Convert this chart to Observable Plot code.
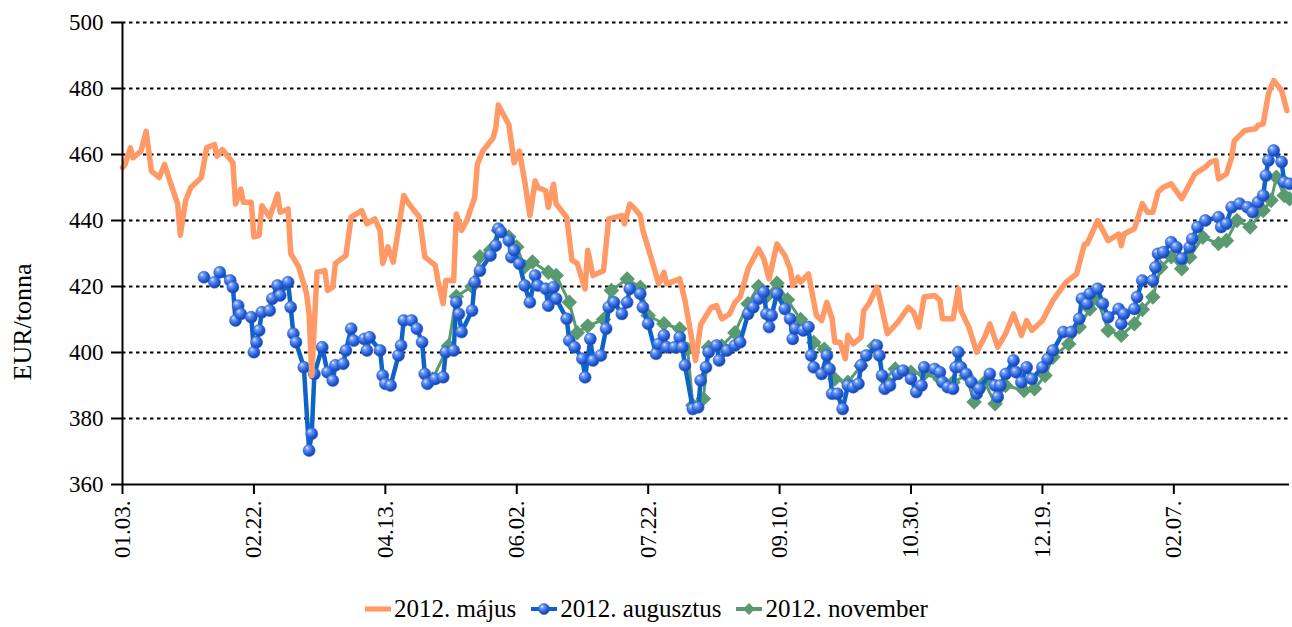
<!DOCTYPE html>
<html>
<head>
<meta charset="utf-8">
<script src="https://cdn.jsdelivr.net/npm/d3@7"></script>
<script src="https://cdn.jsdelivr.net/npm/@observablehq/plot@0.6"></script>
<style>
  html, body { margin: 0; padding: 0; background: #fff; }
  body { font-family: "Liberation Serif", "Times New Roman", serif; color: #000; }
  #chart svg, #chart svg text { font-family: "Liberation Serif", "Times New Roman", serif !important; }
  #legend { display: flex; justify-content: center; align-items: center; height: 37px; font-size: 25px; }
  #legend .item { display: flex; align-items: center; margin: 0 7px; }
  #legend svg { margin-right: 2px; }
</style>
</head>
<body>
<div id="chart"></div>
<div id="legend"></div>
<script>
// ---- data (EUR/tonna) ----
const seriesNames = ["2012. május", "2012. augusztus", "2012. november"];

const majusDates = ["2011-01-03","2011-01-04","2011-01-06","2011-01-07","2011-01-10","2011-01-12","2011-01-14","2011-01-17","2011-01-19","2011-01-21","2011-01-24","2011-01-25","2011-01-27","2011-01-29","2011-02-02","2011-02-04","2011-02-07","2011-02-08","2011-02-10","2011-02-14","2011-02-15","2011-02-17","2011-02-18","2011-02-21","2011-02-22","2011-02-24","2011-02-25","2011-02-28","2011-03-03","2011-03-04","2011-03-07","2011-03-08","2011-03-11","2011-03-14","2011-03-15","2011-03-16","2011-03-18","2011-03-21","2011-03-22","2011-03-24","2011-03-25","2011-03-29","2011-03-31","2011-04-04","2011-04-06","2011-04-09","2011-04-11","2011-04-12","2011-04-14","2011-04-16","2011-04-20","2011-04-22","2011-04-26","2011-04-28","2011-05-02","2011-05-03","2011-05-05","2011-05-06","2011-05-09","2011-05-10","2011-05-12","2011-05-14","2011-05-17","2011-05-18","2011-05-20","2011-05-24","2011-05-25","2011-05-26","2011-05-30","2011-06-01","2011-06-03","2011-06-05","2011-06-07","2011-06-09","2011-06-10","2011-06-13","2011-06-14","2011-06-16","2011-06-17","2011-06-21","2011-06-23","2011-06-25","2011-06-28","2011-06-29","2011-07-01","2011-07-05","2011-07-07","2011-07-12","2011-07-13","2011-07-15","2011-07-17","2011-07-19","2011-07-20","2011-07-23","2011-07-26","2011-07-28","2011-07-29","2011-08-03","2011-08-05","2011-08-07","2011-08-09","2011-08-11","2011-08-15","2011-08-17","2011-08-19","2011-08-22","2011-08-24","2011-08-26","2011-08-29","2011-08-30","2011-09-02","2011-09-04","2011-09-06","2011-09-09","2011-09-12","2011-09-14","2011-09-15","2011-09-17","2011-09-18","2011-09-21","2011-09-24","2011-09-26","2011-09-28","2011-09-30","2011-10-01","2011-10-03","2011-10-05","2011-10-06","2011-10-08","2011-10-11","2011-10-12","2011-10-14","2011-10-17","2011-10-18","2011-10-21","2011-10-25","2011-10-29","2011-10-31","2011-11-02","2011-11-04","2011-11-08","2011-11-10","2011-11-11","2011-11-15","2011-11-17","2011-11-18","2011-11-21","2011-11-24","2011-11-27","2011-11-29","2011-12-02","2011-12-05","2011-12-08","2011-12-11","2011-12-13","2011-12-15","2011-12-19","2011-12-23","2011-12-28","2012-01-01","2012-01-04","2012-01-05","2012-01-09","2012-01-13","2012-01-17","2012-01-18","2012-01-19","2012-01-23","2012-01-26","2012-01-28","2012-01-30","2012-02-01","2012-02-03","2012-02-06","2012-02-10","2012-02-12","2012-02-15","2012-02-19","2012-02-21","2012-02-23","2012-02-24","2012-02-27","2012-02-29","2012-03-01","2012-03-05","2012-03-09","2012-03-10","2012-03-12","2012-03-14","2012-03-16","2012-03-19","2012-03-21"];
const majusValues = [456,457,462,459,461,467,455,453,457,452,445,435.5,446,450,453,462,463,459.5,461.5,457.5,445,449.5,445.5,445.5,435,435.5,444.5,441,448,442.5,443.5,430,426,418,411.7,393,424.3,424.8,418.8,419.8,427,429.4,441,443,439,440.5,437,427,432,427.4,447.6,445,441,429,426.4,421.8,414.8,421.8,421.8,442,437,440,447,457,461,465,468,475,469,457.5,461,452,441.5,452,450,449,444,451,445,441,428,427,419.3,431,423.3,424.8,440.5,441.5,439,445,443.5,441.5,437,429,420.8,424.3,420.8,422.3,415.8,406.7,397.6,408.5,413.7,414.2,410.2,411.7,415.2,416.8,425.4,426.9,431.4,428.4,422.3,432.9,429.4,425.4,420.3,422.8,421.3,423.8,411.2,409.7,415.2,410.2,403.1,403.1,398.1,405.2,402.6,404.6,412.7,414.8,419.8,416.8,405.7,409.2,413.7,412.2,407.7,416.8,417.3,415.8,410.2,410.2,419.3,412.7,407.7,400.1,404.6,408.7,401.6,405.7,411.7,405.2,409.7,406.7,409.7,415.8,421.3,423.8,432.9,432.9,440,433.9,435.9,432.4,435.9,437.5,445.1,442.5,442.5,448.6,450.1,451.1,446.6,449.6,454.1,456.2,457.7,458.2,452.6,454.1,459.2,464.2,467.3,467.8,468.8,469.3,478.4,482.4,479.4,473.3];

const augDates = ["2011-02-03","2011-02-07","2011-02-09","2011-02-13","2011-02-14","2011-02-15","2011-02-16","2011-02-17","2011-02-21","2011-02-22","2011-02-23","2011-02-24","2011-02-25","2011-02-28","2011-03-01","2011-03-03","2011-03-04","2011-03-07","2011-03-08","2011-03-09","2011-03-10","2011-03-13","2011-03-15","2011-03-16","2011-03-17","2011-03-20","2011-03-22","2011-03-24","2011-03-25","2011-03-28","2011-03-29","2011-03-31","2011-04-01","2011-04-05","2011-04-06","2011-04-07","2011-04-11","2011-04-12","2011-04-13","2011-04-15","2011-04-18","2011-04-19","2011-04-20","2011-04-23","2011-04-25","2011-04-27","2011-04-28","2011-04-29","2011-05-02","2011-05-05","2011-05-06","2011-05-09","2011-05-10","2011-05-11","2011-05-12","2011-05-16","2011-05-17","2011-05-19","2011-05-23","2011-05-25","2011-05-26","2011-05-27","2011-05-30","2011-05-31","2011-06-01","2011-06-03","2011-06-05","2011-06-07","2011-06-09","2011-06-10","2011-06-13","2011-06-14","2011-06-16","2011-06-17","2011-06-21","2011-06-22","2011-06-24","2011-06-27","2011-06-28","2011-06-30","2011-07-01","2011-07-04","2011-07-06","2011-07-07","2011-07-09","2011-07-12","2011-07-14","2011-07-15","2011-07-19","2011-07-20","2011-07-22","2011-07-25","2011-07-26","2011-07-28","2011-07-29","2011-08-01","2011-08-03","2011-08-04","2011-08-05","2011-08-08","2011-08-10","2011-08-11","2011-08-13","2011-08-14","2011-08-17","2011-08-18","2011-08-21","2011-08-24","2011-08-26","2011-08-29","2011-08-31","2011-09-02","2011-09-04","2011-09-05","2011-09-06","2011-09-07","2011-09-09","2011-09-12","2011-09-14","2011-09-15","2011-09-16","2011-09-19","2011-09-21","2011-09-22","2011-09-23","2011-09-26","2011-09-28","2011-09-29","2011-09-30","2011-10-02","2011-10-04","2011-10-06","2011-10-08","2011-10-10","2011-10-11","2011-10-13","2011-10-17","2011-10-18","2011-10-19","2011-10-20","2011-10-22","2011-10-25","2011-10-27","2011-10-30","2011-11-01","2011-11-03","2011-11-04","2011-11-08","2011-11-10","2011-11-11","2011-11-13","2011-11-15","2011-11-16","2011-11-17","2011-11-18","2011-11-20","2011-11-22","2011-11-24","2011-11-25","2011-11-29","2011-12-01","2011-12-02","2011-12-03","2011-12-05","2011-12-08","2011-12-09","2011-12-11","2011-12-13","2011-12-15","2011-12-19","2011-12-21","2011-12-23","2011-12-27","2011-12-30","2012-01-02","2012-01-03","2012-01-05","2012-01-06","2012-01-09","2012-01-11","2012-01-13","2012-01-17","2012-01-18","2012-01-19","2012-01-23","2012-01-24","2012-01-26","2012-01-30","2012-01-31","2012-02-01","2012-02-03","2012-02-06","2012-02-08","2012-02-10","2012-02-13","2012-02-14","2012-02-16","2012-02-19","2012-02-24","2012-02-25","2012-02-27","2012-02-29","2012-03-03","2012-03-06","2012-03-08","2012-03-10","2012-03-12","2012-03-13","2012-03-14","2012-03-16","2012-03-19","2012-03-20","2012-03-22"];
const augValues = [422.8,421.3,424.3,421.8,419.8,409.7,414.2,411.7,410.7,400.1,403.1,406.7,412.2,412.7,416.3,420.3,417.3,421.3,413.7,405.7,403.1,395.5,370.3,375.4,393.5,401.6,394,391.5,396.1,396.6,400.6,407.2,403.6,404.1,400.6,404.6,400.6,393,390.5,390,399.1,402.1,409.7,409.7,407.2,403.1,393.5,390.5,392,392.5,400.1,400.6,415.2,411.7,406.2,412.7,421.3,424.8,429.4,432.4,437.5,436.5,433.9,428.9,430.9,426.9,420.3,415.2,423.3,420.3,419.3,414.2,419.8,416.3,410.2,403.6,401.6,398.1,392.5,404.1,397.6,399.1,407.2,413.7,415.2,411.7,415.2,419.3,417.8,413.7,408.7,399.6,402.6,405.2,401.6,401.6,404.6,401.6,396.1,382.9,383.4,391.5,395.5,400.1,402.1,397.6,400.6,402.1,403.1,411.7,413.7,416.3,418.3,411.7,407.7,411.2,417.8,413.2,410.2,404.1,407.2,406.7,407.7,399.1,395.5,393.5,399.1,395,387.5,387.5,382.9,390,389.5,390.5,396.1,399.1,402.1,399.1,393,389,390,393.5,394.5,392,388,390,395.5,395,394,391,389.5,389,395.5,400.1,395.5,393.5,391,387.5,389,393.5,390,386.5,390,393.5,397.6,394,391,395.5,392,395.5,398,400.6,406.2,406.2,410.2,416.3,414.8,417.8,419.3,414.8,410.7,413.2,408.7,411.7,413.2,416.8,421.8,421.8,425.8,429.9,430.4,433.4,431.9,428.4,431.9,434.4,438,440,441,438,439,444,445.1,444,442.5,445.5,447.6,453.6,458.2,461.2,457.7,451.6,451.1];

const novDates = ["2011-05-01","2011-05-07","2011-05-10","2011-05-16","2011-05-19","2011-05-23","2011-05-26","2011-05-30","2011-06-02","2011-06-05","2011-06-08","2011-06-14","2011-06-17","2011-06-22","2011-06-25","2011-06-29","2011-07-05","2011-07-08","2011-07-14","2011-07-19","2011-07-22","2011-07-28","2011-08-03","2011-08-06","2011-08-08","2011-08-12","2011-08-14","2011-08-19","2011-08-24","2011-08-29","2011-09-02","2011-09-05","2011-09-09","2011-09-13","2011-09-18","2011-09-23","2011-09-27","2011-10-01","2011-10-06","2011-10-11","2011-10-16","2011-10-20","2011-10-24","2011-10-30","2011-11-04","2011-11-10","2011-11-15","2011-11-20","2011-11-23","2011-11-27","2011-12-01","2011-12-05","2011-12-12","2011-12-16","2011-12-20","2011-12-23","2011-12-29","2012-01-02","2012-01-06","2012-01-09","2012-01-13","2012-01-18","2012-01-23","2012-01-26","2012-01-30","2012-02-02","2012-02-06","2012-02-10","2012-02-13","2012-02-18","2012-02-24","2012-02-27","2012-03-02","2012-03-07","2012-03-12","2012-03-15","2012-03-17","2012-03-20","2012-03-22"];
const novValues = [392,402,417,420,429,431,437,435,432,426,427.4,424.3,423.3,415.2,406,408,410,418.8,422.3,419.8,411.2,408.7,407.2,401,384,386,401.6,402,406,414.8,420,417,421,416,410,403,401,392,391,396,402,392,395,394,393.5,392,391,393,385,391,384.5,390,388.5,389,393,398.6,402.6,407.7,413.2,416,406.7,405.2,408.7,413,416.8,425.8,429,425.4,428.9,434.9,433,433.9,440,438,443,446.1,453.1,447.6,446.6];

const xTickDates = ["2011-01-03","2011-02-22","2011-04-13","2011-06-02","2011-07-22","2011-09-10","2011-10-30","2011-12-19","2012-02-07"];
const xTickLabels = ["01.03.","02.22.","04.13.","06.02.","07.22.","09.10.","10.30.","12.19.","02.07."];
const xDomain = ["2011-01-03","2012-03-22"];
const yTicks = [360,380,400,420,440,460,480,500];
const yDomain = [360,500];
const yLabel = "EUR/tonna";

const colors = {majus: "#FF9966", aug: "#0E63C8", nov: "#5A9A70"};

// ---- build ----
const parse = d3.utcParse("%Y-%m-%d");
const toRows = (ds, vs) => ds.map((d, i) => ({date: parse(d), value: vs[i]}));
const majus = toRows(majusDates, majusValues);
const aug = toRows(augDates, augValues);
const nov = toRows(novDates, novValues);
const tickLabelOf = new Map(xTickDates.map((d, i) => [+parse(d), xTickLabels[i]]));

const chart = Plot.plot({
  width: 1292,
  height: 590,
  marginLeft: 122,
  marginRight: 3,
  marginTop: 22,
  marginBottom: 106,
  style: {fontFamily: "Liberation Serif", fontSize: "23px", color: "#000", background: "#fff", overflow: "visible"},
  x: {type: "utc", domain: xDomain.map(parse), ticks: xTickDates.map(parse), tickFormat: d => tickLabelOf.get(+d), tickRotate: -90, tickSize: 10, tickPadding: 6, label: null},
  y: {domain: yDomain, ticks: yTicks, tickSize: 11, tickPadding: 8, label: null},
  marks: [
    Plot.ruleY(yTicks.filter(v => v > yDomain[0]), {stroke: "#000", strokeWidth: 2, strokeDasharray: "3.5,3.5"}),
    Plot.lineY(nov, {x: "date", y: "value", stroke: colors.nov, strokeWidth: 3}),
    Plot.dot(nov, {x: "date", y: "value", symbol: "diamond2", r: 7, fill: colors.nov}),
    Plot.lineY(aug, {x: "date", y: "value", stroke: colors.aug, strokeWidth: 4.5, strokeLinejoin: "round"}),
    Plot.dot(aug, {x: "date", y: "value", r: 6, fill: "url(#sphere)", stroke: "#2a5fd0", strokeWidth: 0.6}),
    Plot.lineY(majus, {x: "date", y: "value", stroke: colors.majus, strokeWidth: 5.5, strokeLinejoin: "round"}),
    Plot.ruleY([yDomain[0]], {stroke: "#000", strokeWidth: 2}),
    Plot.ruleX([parse(xDomain[0])], {stroke: "#000", strokeWidth: 2})
  ]
});

const svg = d3.select(chart);
// sphere gradient for the August markers
const defs = svg.insert("defs", ":first-child");
const grad = defs.append("radialGradient").attr("id", "sphere").attr("cx", "38%").attr("cy", "35%").attr("r", "65%").attr("fx", "32%").attr("fy", "28%");
grad.append("stop").attr("offset", "0%").attr("stop-color", "#e3ecff");
grad.append("stop").attr("offset", "25%").attr("stop-color", "#6f9cf5");
grad.append("stop").attr("offset", "65%").attr("stop-color", "#2a63dc");
grad.append("stop").attr("offset", "100%").attr("stop-color", "#1440a8");

svg.selectAll("[aria-label='y-axis tick'] path, [aria-label='x-axis tick'] path").attr("stroke-width", 2);
svg.selectAll("text").style("font-family", "'Liberation Serif', 'Times New Roman', serif");

// y-axis title (rotated, left of the tick labels)
svg.append("text")
  .attr("transform", "translate(22,322) rotate(-90)")
  .attr("text-anchor", "middle")
  .attr("dominant-baseline", "central")
  .style("font-family", "'Liberation Serif', 'Times New Roman', serif")
  .style("font-size", "26px")
  .attr("fill", "#000")
  .text(yLabel);

document.getElementById("chart").appendChild(chart);

// ---- legend ----
const legend = d3.select("#legend");
const swatches = [
  {name: seriesNames[0], color: colors.majus, kind: "line"},
  {name: seriesNames[1], color: colors.aug, kind: "sphere"},
  {name: seriesNames[2], color: colors.nov, kind: "diamond"}
];
swatches.forEach(s => {
  const item = legend.append("span").attr("class", "item");
  const sv = item.append("svg").attr("width", 28).attr("height", 16);
  sv.append("line").attr("x1", 1).attr("x2", 27).attr("y1", 8).attr("y2", 8)
    .attr("stroke", s.color).attr("stroke-width", s.kind === "line" ? 5 : 4);
  if (s.kind === "sphere") {
    sv.append("circle").attr("cx", 14).attr("cy", 8).attr("r", 5.5).attr("fill", "url(#sphere)").attr("stroke", "#2a5fd0").attr("stroke-width", 0.6);
  } else if (s.kind === "diamond") {
    sv.append("path").attr("d", "M14,2L20,8L14,14L8,8Z").attr("fill", s.color);
  }
  item.append("span").text(s.name);
});
</script>
</body>
</html>
